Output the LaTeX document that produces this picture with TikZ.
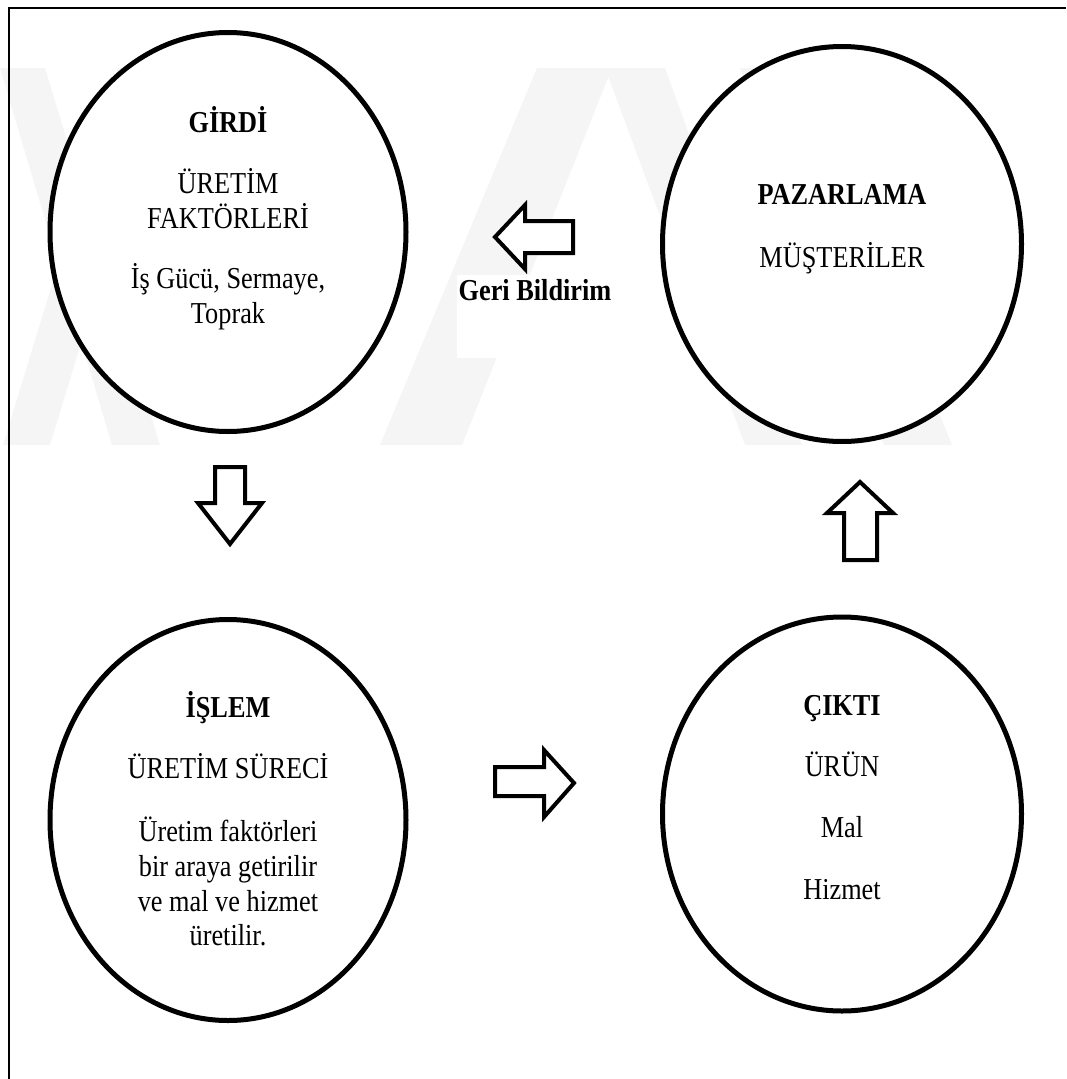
\documentclass[tikz,border=0pt]{standalone}
\usepackage{fontspec}
\setmainfont{Liberation Serif}[FakeStretch=0.865]
\usetikzlibrary{shapes.geometric}
\tikzset{
  frameline/.style={line width=2pt, black},
  wmark/.style={fill=black!4, draw=none},
  oval/.style={ellipse, draw, line width=5pt, fill=white, inner sep=0pt},
  blockarrow/.style={draw, line width=4pt, fill=white, line join=miter},
  txt/.style={anchor=base, inner sep=0pt, font=\fontsize{30.4}{35}\selectfont},
  btxt/.style={txt, font=\fontsize{30.4}{35}\selectfont\bfseries},
}
\begin{document}
\begin{tikzpicture}[x=1pt, y=-1pt]
\useasboundingbox (0,0) rectangle (1066,1079);
% watermark
\fill[wmark] (0,68) -- (45,68) -- (160,445) -- (112,445) -- cycle;
\fill[wmark] (118,68) -- (165,68) -- (50,445) -- (3,445) -- cycle;
\fill[wmark] (537,68) -- (612,68) -- (462,445) -- (380,445) -- cycle;
\fill[wmark] (605,68) -- (665,68) -- (802,445) -- (745,445) -- cycle;
\fill[wmark] (740,68) -- (800,68) -- (952,445) -- (884,445) -- cycle;
% frame
\draw[frameline] (9,1079) -- (9,8) -- (1066,8);
% ovals
\node[oval, minimum width=356pt, minimum height=399pt] (girdi) at (228,232) {};
\node[oval, minimum width=359pt, minimum height=395pt] (pazar) at (842,244) {};
\node[oval, minimum width=356pt, minimum height=401pt] (islem) at (228,820) {};
\node[oval, minimum width=359pt, minimum height=394pt] (cikti) at (842,814) {};
% texts
\node[btxt] (g1) at (228,132) {GİRDİ};
\node[txt] (g2) at (228,193) {ÜRETİM};
\node[txt] (g3) at (228,228) {FAKTÖRLERİ};
\node[txt] (g4) at (228,288) {İş Gücü, Sermaye,};
\node[txt] (g5) at (228,323) {Toprak};
\node[btxt] (p1) at (842,204) {PAZARLAMA};
\node[txt] (p2) at (842,267) {MÜŞTERİLER};
\node[btxt] (i1) at (228,717) {İŞLEM};
\node[txt] (i2) at (228,778) {ÜRETİM SÜRECİ};
\node[txt] (i3) at (228,841) {Üretim faktörleri};
\node[txt] (i4) at (228,876) {bir araya getirilir};
\node[txt] (i5) at (228,911) {ve mal ve hizmet};
\node[txt] (i6) at (228,945) {üretilir.};
\node[btxt] (c1) at (842,715) {ÇIKTI};
\node[txt] (c2) at (842,776) {ÜRÜN};
\node[txt] (c3) at (842,837) {Mal};
\node[txt] (c4) at (842,899) {Hizmet};
% feedback label box
\fill[white] (457,275) rectangle (639,358);
\node[btxt] (geri) at (535,300) {Geri Bildirim};
% block arrows
\draw[blockarrow] (495,237) -- (525,205) -- (525,221) -- (573,221) -- (573,253) -- (525,253) -- (525,269) -- cycle;
\draw[blockarrow] (230,544) -- (198,503) -- (215,503) -- (215,467) -- (245,467) -- (245,503) -- (262,503) -- cycle;
\draw[blockarrow] (860,482) -- (893,513) -- (877,513) -- (877,560) -- (844,560) -- (844,513) -- (827,513) -- cycle;
\draw[blockarrow] (574,783) -- (544,817) -- (544,796) -- (495,796) -- (495,767) -- (544,767) -- (544,750) -- cycle;
\end{tikzpicture}
\end{document}
